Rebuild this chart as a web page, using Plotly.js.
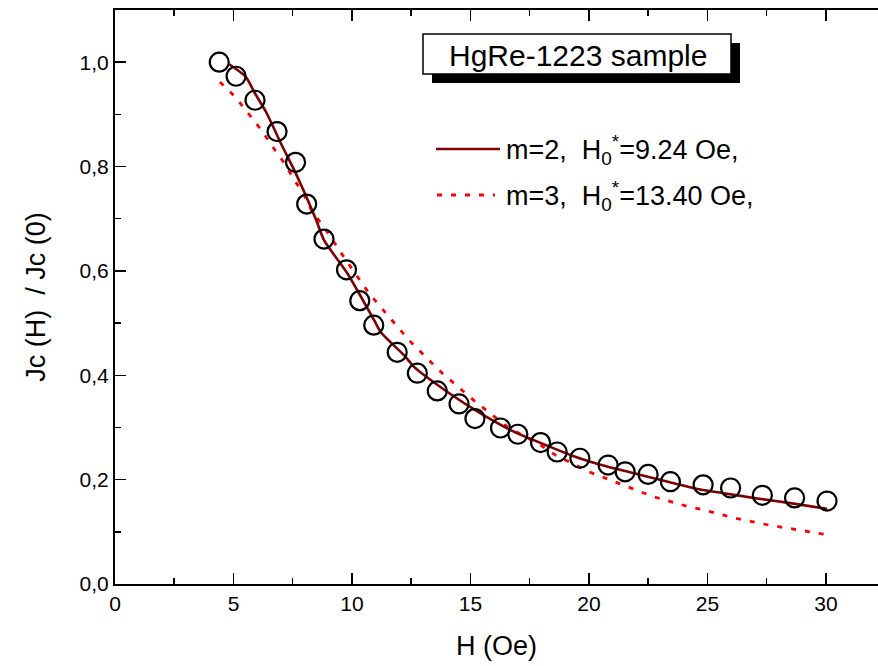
<!DOCTYPE html>
<html>
<head>
<meta charset="utf-8">
<script src="https://cdn.plot.ly/plotly-3.0.1.min.js"></script>
<style>html,body{margin:0;padding:0;background:#fff;}#chart{width:878px;height:666px;}</style>
</head>
<body>
<div id="chart"></div>
<script>
// Measured data (open circles)
const dataH = [4.40,5.11,5.91,6.84,7.62,8.09,8.82,9.77,10.33,10.92,11.91,12.76,13.60,14.52,15.19,16.27,17.00,17.96,18.66,19.62,20.81,21.53,22.50,23.44,24.82,25.98,27.32,28.68,30.05];
const dataJ = [1.000,0.973,0.927,0.867,0.808,0.728,0.661,0.602,0.543,0.496,0.444,0.404,0.370,0.345,0.317,0.299,0.287,0.271,0.253,0.241,0.228,0.215,0.210,0.196,0.190,0.184,0.170,0.165,0.159];

// Fit m=2 (solid dark red)
const fit2H = [4.82,5.52,5.91,6.37,7.07,7.63,8.47,8.82,9.81,10.93,11.21,12.27,12.62,14.03,15.43,16.83,18.52,19.36,20.77,22.18,23.58,24.70,25.69,27.10,28.50,30.05];
const fit2J = [0.996,0.972,0.940,0.905,0.838,0.787,0.700,0.659,0.595,0.506,0.483,0.435,0.416,0.368,0.327,0.292,0.260,0.245,0.225,0.209,0.193,0.181,0.174,0.164,0.155,0.144];

// Fit m=3 (dotted red)
const fit3H = [4.43,5.10,5.66,6.16,6.65,7.14,7.56,7.98,8.33,8.82,9.74,10.72,11.92,12.48,13.18,13.81,15.22,16.56,17.96,18.59,20.00,21.40,22.74,24.14,24.84,26.18,27.58,28.92,29.62,30.00];
const fit3J = [0.962,0.932,0.900,0.871,0.838,0.807,0.775,0.745,0.713,0.684,0.621,0.557,0.493,0.464,0.432,0.404,0.349,0.301,0.266,0.247,0.215,0.190,0.167,0.149,0.142,0.126,0.113,0.103,0.097,0.095];

const xTicks = [0,5,10,15,20,25,30];
const yTicks = [0,0.2,0.4,0.6,0.8,1.0];

const font = "Arial, 'Liberation Sans', sans-serif";

const traces = [
  {x: fit3H, y: fit3J, mode:'lines', line:{color:'#ff0000', width:2.8, dash:'5px,9px'}, hoverinfo:'skip'},
  {x: fit2H, y: fit2J, mode:'lines', line:{color:'#800000', width:2.6, shape:'spline', smoothing:0.6}},
  {x: dataH, y: dataJ, mode:'markers', marker:{symbol:'circle-open', size:19, color:'#000', line:{width:2.2, color:'#000'}}}
];

const layout = {
  width: 878, height: 666,
  margin: {l:115, r:0, t:10, b:82},
  paper_bgcolor:'#fff', plot_bgcolor:'#fff',
  showlegend:false,
  separators: ',.',
  font: {family: font, color:'#000'},
  xaxis: {
    range:[0, 32.2], tickvals: xTicks, ticktext: xTicks.map(String),
    ticks:'inside', ticklen:11, tickwidth:1.5, tickcolor:'#000',
    minor:{dtick:2.5, ticks:'inside', ticklen:6, tickwidth:1.5, tickcolor:'#000'},
    showline:true, linecolor:'#000', linewidth:2, mirror:'ticks',
    showgrid:false, zeroline:false,
    tickfont:{size:21, family:font},
    title:{text:'H (Oe)', font:{size:27, family:font}, standoff:22}
  },
  yaxis: {
    range:[0, 1.1], tickvals: yTicks, tickformat:'.1f',
    ticks:'inside', ticklen:11, tickwidth:1.5, tickcolor:'#000',
    minor:{dtick:0.1, ticks:'inside', ticklen:6, tickwidth:1.5, tickcolor:'#000'},
    showline:true, linecolor:'#000', linewidth:2, mirror:false,
    showgrid:false, zeroline:false,
    tickfont:{size:21, family:font},
    title:{text:'Jc (H)  / Jc (0)', font:{size:27, family:font}, standoff:26}
  },
  shapes: [
    // shadow of title box
    {type:'rect', xref:'paper', yref:'paper', x0:(432-115)/763, x1:(740-115)/763, y0:(584-83)/574, y1:(584-43)/574, fillcolor:'#000', line:{width:0}},
    // title box
    {type:'rect', xref:'paper', yref:'paper', x0:(423-115)/763, x1:(731-115)/763, y0:(584-74)/574, y1:(584-34)/574, fillcolor:'#fff', line:{color:'#000', width:1.5}},
    // legend samples
    {type:'line', xref:'paper', yref:'paper', x0:(436-115)/763, x1:(500-115)/763, y0:(584-149)/574, y1:(584-149)/574, line:{color:'#800000', width:2.6}},
    {type:'line', xref:'paper', yref:'paper', x0:(437-115)/763, x1:(495-115)/763, y0:(584-195)/574, y1:(584-195)/574, line:{color:'#ff0000', width:2.8, dash:'5px,9px'}}
  ],
  annotations: [
    {xref:'paper', yref:'paper', x:(578-115)/763, y:(584-55)/574, text:'HgRe-1223 sample', showarrow:false, xanchor:'center', yanchor:'middle', font:{size:30, family:font, color:'#000'}},
    {xref:'paper', yref:'paper', x:(504-115)/763, y:(584-150)/574, text:'m=2,  H<sub>0</sub><sup>*</sup>=9.24 Oe,', showarrow:false, xanchor:'left', yanchor:'middle', font:{size:27, family:font, color:'#000'}},
    {xref:'paper', yref:'paper', x:(504-115)/763, y:(584-196)/574, text:'m=3,  H<sub>0</sub><sup>*</sup>=13.40 Oe,', showarrow:false, xanchor:'left', yanchor:'middle', font:{size:27, family:font, color:'#000'}}
  ]
};

Plotly.newPlot('chart', traces, layout, {displayModeBar:false, staticPlot:true});
</script>
</body>
</html>
